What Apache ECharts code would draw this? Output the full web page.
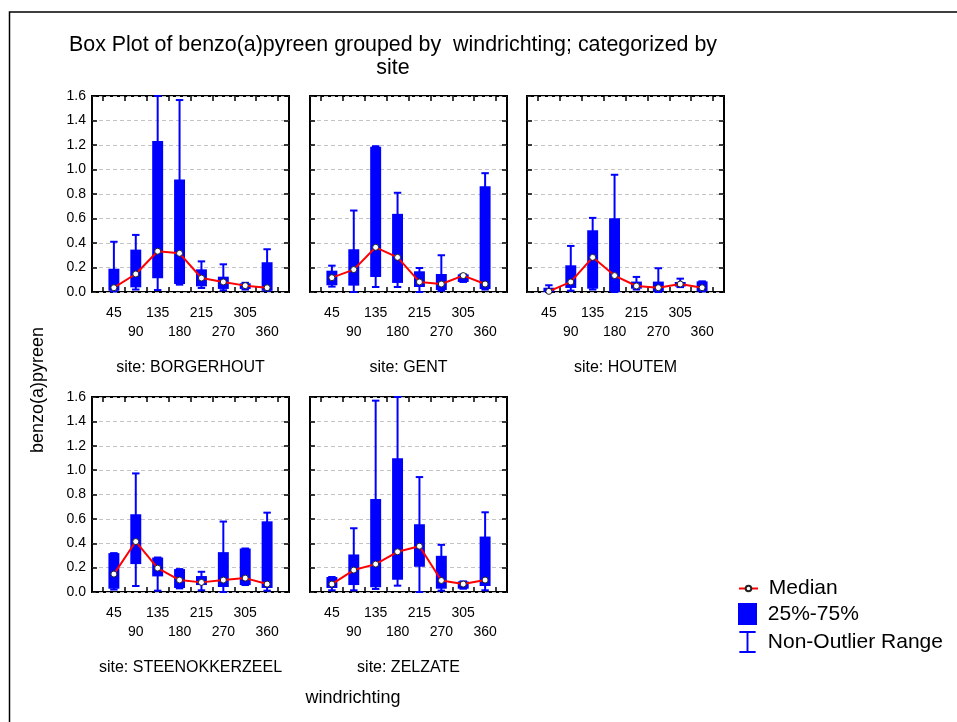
<!DOCTYPE html>
<html>
<head>
<meta charset="utf-8">
<script src="https://cdn.jsdelivr.net/npm/echarts@6/dist/echarts.min.js"></script>
<style>
  html, body { margin: 0; padding: 0; background: #ffffff; }
  #chart { width: 957px; height: 722px; }
</style>
</head>
<body>
<div id="chart"></div>
<script>
// Wind-direction classes on the x axis of every panel
const CATEGORIES = ['45', '90', '135', '180', '215', '270', '305', '360'];
const SITES = ['BORGERHOUT', 'GENT', 'HOUTEM', 'STEENOKKERZEEL', 'ZELZATE'];

// One row per wind direction: [min, q1 (25%), median, q3 (75%), max]
const BORGERHOUT = [
  [0.005, 0.010, 0.035, 0.190, 0.410],
  [0.020, 0.038, 0.147, 0.346, 0.466],
  [0.016, 0.112, 0.333, 1.232, 1.600],
  [0.060, 0.065, 0.316, 0.918, 1.567],
  [0.033, 0.046, 0.114, 0.185, 0.250],
  [0.014, 0.025, 0.082, 0.125, 0.226],
  [0.020, 0.025, 0.052, 0.071, 0.075],
  [0.010, 0.010, 0.035, 0.243, 0.349]
];
const GENT = [
  [0.044, 0.055, 0.117, 0.174, 0.215],
  [0.000, 0.052, 0.183, 0.349, 0.665],
  [0.041, 0.123, 0.365, 1.186, 1.190],
  [0.041, 0.074, 0.283, 0.638, 0.810],
  [0.000, 0.041, 0.082, 0.169, 0.196],
  [0.010, 0.016, 0.065, 0.147, 0.300],
  [0.082, 0.082, 0.134, 0.144, 0.144],
  [0.020, 0.025, 0.065, 0.864, 0.970]
];
const HOUTEM = [
  [0.000, 0.000, 0.005, 0.035, 0.055],
  [0.011, 0.033, 0.082, 0.218, 0.376],
  [0.020, 0.027, 0.283, 0.504, 0.605],
  [0.000, 0.000, 0.134, 0.602, 0.957],
  [0.020, 0.027, 0.049, 0.085, 0.123],
  [0.000, 0.005, 0.035, 0.085, 0.194],
  [0.040, 0.044, 0.065, 0.082, 0.109],
  [0.005, 0.005, 0.035, 0.087, 0.087]
];
const STEENOKKERZEEL = [
  [0.020, 0.027, 0.147, 0.319, 0.319],
  [0.049, 0.229, 0.414, 0.638, 0.973],
  [0.011, 0.128, 0.196, 0.283, 0.283],
  [0.030, 0.033, 0.098, 0.188, 0.188],
  [0.014, 0.057, 0.079, 0.131, 0.166],
  [0.000, 0.041, 0.098, 0.327, 0.578],
  [0.057, 0.057, 0.114, 0.357, 0.357],
  [0.011, 0.033, 0.065, 0.580, 0.651]
];
const ZELZATE = [
  [0.014, 0.033, 0.065, 0.123, 0.123],
  [0.014, 0.057, 0.180, 0.308, 0.523],
  [0.025, 0.038, 0.229, 0.763, 1.570],
  [0.052, 0.101, 0.330, 1.098, 1.600],
  [0.000, 0.207, 0.376, 0.556, 0.943],
  [0.011, 0.027, 0.095, 0.297, 0.387],
  [0.027, 0.027, 0.065, 0.087, 0.087],
  [0.014, 0.049, 0.098, 0.455, 0.654]
];
const SITE_STATS = [BORGERHOUT, GENT, HOUTEM, STEENOKKERZEEL, ZELZATE];

// Panel placement (pixels)
const PANEL_LEFT = [92, 310, 527, 92, 310];
const PANEL_TOP = [96, 96, 96, 397, 397];
const PANEL_W = 197;
const PANEL_H = [196, 196, 196, 195, 195];

const FONT = '"Liberation Sans", Arial, sans-serif';
const BLUE = '#0000ff';
const RED = '#ff0000';

// Category slots sit at 1..8 on a 0..9 axis; ticks fall between slots.
// Labels alternate between two rows: odd slots on the first row, even slots on the second.
const X_ROW1_POS = [1, 3, 5, 7];
const X_ROW2_POS = [2, 4, 6, 8];
const X_TICK_POS = [0.5, 1.5, 2.5, 3.5, 4.5, 5.5, 6.5, 7.5, 8.5];

function tickStyle(extra) {
  return Object.assign({ show: true, inside: true, length: 5, lineStyle: { color: '#000', width: 1.5 } }, extra || {});
}
function hiddenLine() {
  return { show: false, onZero: false };
}
function categoryName(v) {
  return CATEGORIES[Math.round(v) - 1];
}

function renderWhisker(params, api) {
  const x = api.value(0);
  const lo = api.coord([x, api.value(1)]);
  const hi = api.coord([x, api.value(5)]);
  const half = api.size([1, 0])[0] * 0.17;
  const st = { stroke: BLUE, lineWidth: 2 };
  return {
    type: 'group',
    children: [
      { type: 'line', shape: { x1: lo[0], y1: lo[1], x2: hi[0], y2: hi[1] }, style: st },
      { type: 'line', shape: { x1: lo[0] - half, y1: lo[1], x2: lo[0] + half, y2: lo[1] }, style: st },
      { type: 'line', shape: { x1: hi[0] - half, y1: hi[1], x2: hi[0] + half, y2: hi[1] }, style: st }
    ]
  };
}

function renderBox(params, api) {
  const x = api.value(0);
  const q1 = api.coord([x, api.value(2)]);
  const q3 = api.coord([x, api.value(4)]);
  const w = api.size([1, 0])[0] * 0.5;
  return {
    type: 'rect',
    shape: { x: q1[0] - w / 2, y: q3[1], width: w, height: Math.max(q1[1] - q3[1], 1) },
    style: { fill: BLUE, stroke: null }
  };
}

const labelText = { fontSize: 14, lineHeight: 19, color: '#000', fontFamily: FONT };

const grids = [], xAxes = [], yAxes = [], series = [];
SITE_STATS.forEach((rows, g) => {
  grids.push({
    left: PANEL_LEFT[g], top: PANEL_TOP[g], width: PANEL_W, height: PANEL_H[g],
    show: true, borderColor: '#000', borderWidth: 2, backgroundColor: 'transparent'
  });
  // bottom axis: ticks + first label row
  xAxes.push({
    gridIndex: g, type: 'value', min: 0, max: 9, position: 'bottom',
    axisLine: hiddenLine(), splitLine: { show: false },
    axisTick: tickStyle({ customValues: X_TICK_POS }),
    axisLabel: Object.assign({
      show: true, customValues: X_ROW1_POS, showMinLabel: true, showMaxLabel: true,
      formatter: categoryName, margin: 12
    }, labelText)
  });
  // top axis: ticks, and the second label row pushed below the panel
  xAxes.push({
    gridIndex: g, type: 'value', min: 0, max: 9, position: 'top',
    axisLine: hiddenLine(), splitLine: { show: false },
    axisTick: tickStyle({ customValues: X_TICK_POS }),
    axisLabel: Object.assign({
      show: true, inside: true, customValues: X_ROW2_POS, showMinLabel: true, showMaxLabel: true,
      formatter: categoryName, margin: PANEL_H[g] + 31
    }, labelText)
  });
  yAxes.push({
    gridIndex: g, type: 'value', min: 0, max: 1.6, interval: 0.2, position: 'left',
    axisLine: hiddenLine(), axisTick: tickStyle(),
    splitLine: { show: true, lineStyle: { color: '#c4c4c4', type: [4, 3], width: 1 } },
    axisLabel: {
      show: g === 0 || g === 3, formatter: v => v.toFixed(1),
      fontSize: 14, color: '#000', fontFamily: FONT, margin: 6
    }
  });
  yAxes.push({
    gridIndex: g, type: 'value', min: 0, max: 1.6, interval: 0.2, position: 'right',
    axisLine: hiddenLine(), axisTick: tickStyle(), splitLine: { show: false }, axisLabel: { show: false }
  });

  const boxData = rows.map((r, i) => [i + 1].concat(r));
  series.push({
    name: 'Non-Outlier Range', type: 'custom', xAxisIndex: 2 * g, yAxisIndex: 2 * g,
    data: boxData, encode: { x: 0, y: [1, 2, 3, 4, 5] }, renderItem: renderWhisker,
    itemStyle: { color: BLUE }, z: 2, silent: true
  });
  series.push({
    name: '25%-75%', type: 'custom', xAxisIndex: 2 * g, yAxisIndex: 2 * g,
    data: boxData, encode: { x: 0, y: [1, 2, 3, 4, 5] }, renderItem: renderBox,
    itemStyle: { color: BLUE }, z: 3, silent: true
  });
  series.push({
    name: 'Median', type: 'line', xAxisIndex: 2 * g, yAxisIndex: 2 * g,
    data: rows.map((r, i) => [i + 1, r[2]]),
    symbol: 'circle', symbolSize: 6, showAllSymbol: true,
    itemStyle: { color: '#ffffff', borderColor: '#222', borderWidth: 1 },
    lineStyle: { color: RED, width: 2 }, z: 4, silent: true
  });
});

// Panel captions
const captions = SITES.map((s, g) => ({
  type: 'text', x: PANEL_LEFT[g] + PANEL_W / 2, y: g < 3 ? 368 : 668,
  style: { text: 'site: ' + s, fontSize: 16, fontFamily: FONT, fill: '#000', align: 'center', verticalAlign: 'middle' }
}));

const IBAR = 'path://M0,0h17v2h-17z M7.5,0h2v23h-2z M0,21h17v2h-17z';

const option = {
  animation: false,
  backgroundColor: '#ffffff',
  grid: grids,
  xAxis: xAxes,
  yAxis: yAxes,
  series: series,
  legend: [
    {
      data: ['Median'], orient: 'vertical', left: 738, top: 578, padding: 0,
      itemWidth: 19, itemHeight: 7, selectedMode: false,
      formatter: n => ' ' + n,
      textStyle: { fontSize: 21, color: '#000', fontFamily: FONT }
    },
    {
      data: [{ name: '25%-75%', icon: 'rect' }, { name: 'Non-Outlier Range', icon: IBAR }],
      orient: 'vertical', left: 738, top: 603, padding: 0,
      itemWidth: 19, itemHeight: 22, itemGap: 6, selectedMode: false,
      formatter: n => ' ' + n,
      textStyle: { fontSize: 21, color: '#000', fontFamily: FONT }
    }
  ],
  graphic: [
    { type: 'rect', silent: true, z: -1, shape: { x: 9.5, y: 12, width: 1000, height: 800 },
      style: { fill: 'none', stroke: '#000', lineWidth: 1.5 } },
    { type: 'text', x: 393, y: 45,
      style: { text: 'Box Plot of benzo(a)pyreen grouped by  windrichting; categorized by', fontSize: 21.4, fontFamily: FONT, fill: '#000', align: 'center', verticalAlign: 'middle' } },
    { type: 'text', x: 393, y: 68,
      style: { text: 'site', fontSize: 21.4, fontFamily: FONT, fill: '#000', align: 'center', verticalAlign: 'middle' } },
    { type: 'text', x: 38, y: 390, rotation: Math.PI / 2,
      style: { text: 'benzo(a)pyreen', fontSize: 18, fontFamily: FONT, fill: '#000', align: 'center', verticalAlign: 'middle' } },
    { type: 'text', x: 353, y: 698,
      style: { text: 'windrichting', fontSize: 18, fontFamily: FONT, fill: '#000', align: 'center', verticalAlign: 'middle' } }
  ].concat(captions)
};

const chart = echarts.init(document.getElementById('chart'), null, { renderer: 'canvas' });
chart.setOption(option);
</script>
</body>
</html>
